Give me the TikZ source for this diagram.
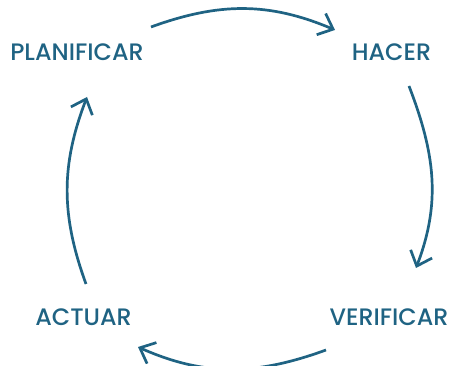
\documentclass[tikz,border=0pt]{standalone}
\usepackage{fontspec}
\setmainfont{Poppins}[UprightFont=* Medium]
\usetikzlibrary{arrows.meta}
\definecolor{cyclecol}{RGB}{31,99,131}
\begin{document}
\begin{tikzpicture}[x=1pt,y=1pt,
  stage/.style={text=cyclecol,font=\fontsize{23.8}{28}\selectfont,inner sep=0pt},
  cyc/.style={draw=cyclecol,line width=2.7pt,
    -{Straight Barb[length=13pt,width=23pt,line width=2.7pt]}}]
\useasboundingbox (0,0) rectangle (450,366);
\node[stage] (plan) at (77,314) {PLANIFICAR};
\node[stage] (hacer) at (391.5,314) {HACER};
\node[stage] (verif) at (389,49) {VERIFICAR};
\node[stage] (actuar) at (83.5,49) {ACTUAR};
% arc end points around the cycle
\coordinate (t0) at (151,339);
\coordinate (t1) at (335,336);
\coordinate (r0) at (409,280);
\coordinate (r1) at (416,98);
\coordinate (b0) at (326,16);
\coordinate (b1) at (138,19);
\coordinate (l0) at (86,82);
\coordinate (l1) at (87,269);
\draw[cyc] (t0) to[out=20,in=157] (t1);
\draw[cyc] (r0) to[out=-69,in=69] (r1);
\draw[cyc] (b0) to[out=200,in=-24] (b1);
\draw[cyc] (l0) to[out=110,in=-111] (l1);
\end{tikzpicture}
\end{document}
